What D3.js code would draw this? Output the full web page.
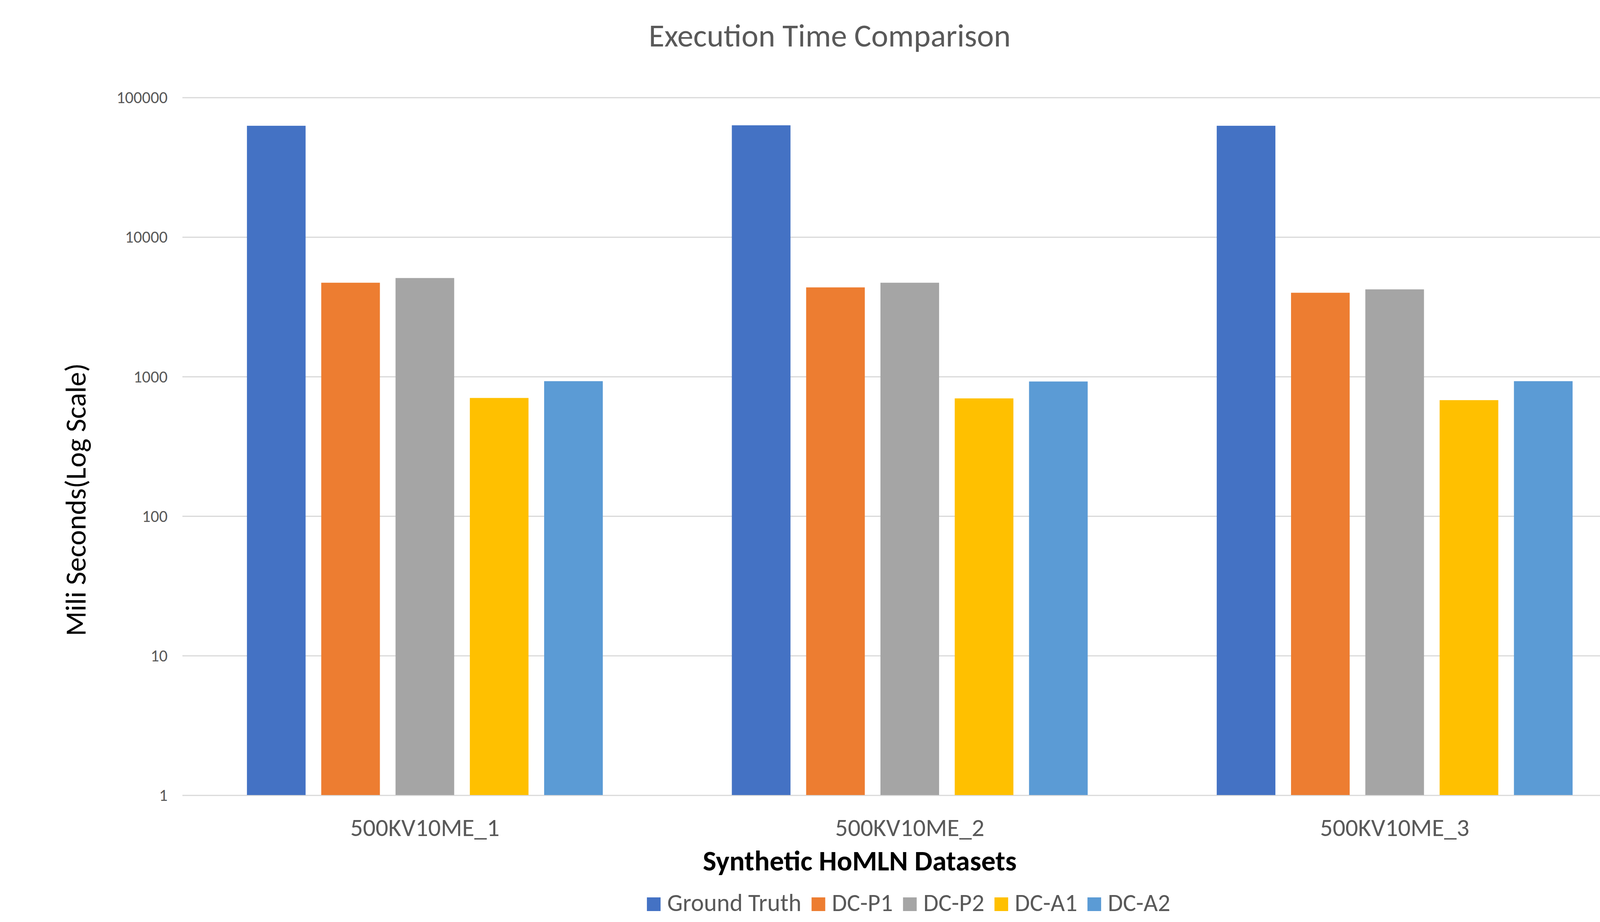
<!DOCTYPE html>
<html>
<head>
<meta charset="utf-8">
<script src="https://d3js.org/d3.v7.min.js"></script>
<style>
  body { margin: 0; background: #fff; }
  text { font-family: Carlito, Calibri, Lato, sans-serif; }
</style>
</head>
<body>
<svg id="chart"></svg>
<script>
var W = 4248, H = 2360;

var datasets = ["500KV10ME_1", "500KV10ME_2", "500KV10ME_3"];
var methods = ["Ground Truth", "DC-P1", "DC-P2", "DC-A1", "DC-A2"];
var groundTruth = [62900, 63400, 62900];
var dcP1 = [4720, 4370, 4000];
var dcP2 = [5100, 4720, 4230];
var dcA1 = [705, 700, 680];
var dcA2 = [930, 925, 930];
var yTicks = [1, 10, 100, 1000, 10000, 100000];
var colors = ["#4472C4", "#ED7D31", "#A5A5A5", "#FFC000", "#5B9BD5"];

var series = [groundTruth, dcP1, dcP2, dcA1, dcA2];

// plot area (window.top is read-only, so no "top" here)
var plotL = 467, plotR = 4191, plotT = 250, plotB = 2036;

var svg = d3.select("#chart").attr("width", W).attr("height", H);

var x0 = d3.scaleBand().domain(datasets).range([plotL, plotR]);
var groupW = 911;
var x1 = d3.scaleBand().domain(methods).range([0, groupW]).paddingInner(40 / 190);
var y = d3.scaleLog().domain([1, 100000]).range([plotB, plotT]);
var color = d3.scaleOrdinal().domain(methods).range(colors);

// gridlines
svg.append("g")
  .selectAll("line")
  .data(yTicks)
  .enter().append("line")
  .attr("x1", plotL).attr("x2", plotR)
  .attr("y1", function(d) { return y(d); })
  .attr("y2", function(d) { return y(d); })
  .attr("stroke", "#d9d9d9")
  .attr("stroke-width", 3);

// bars
var groups = svg.append("g")
  .selectAll("g")
  .data(datasets)
  .enter().append("g")
  .attr("transform", function(d) {
    return "translate(" + (x0(d) + (x0.bandwidth() - groupW) / 2) + ",0)";
  });

groups.selectAll("rect")
  .data(function(d, i) {
    return methods.map(function(m, j) { return { m: m, v: series[j][i] }; });
  })
  .enter().append("rect")
  .attr("x", function(d) { return x1(d.m); })
  .attr("width", x1.bandwidth())
  .attr("y", function(d) { return y(d.v); })
  .attr("height", function(d) { return plotB - 1 - y(d.v); })
  .attr("fill", function(d) { return color(d.m); });

// y axis
var yAxis = svg.append("g")
  .attr("transform", "translate(" + plotL + ",0)")
  .call(d3.axisLeft(y).tickValues(yTicks).tickFormat(d3.format("d")).tickSize(0).tickPadding(38));
yAxis.select(".domain").remove();
yAxis.selectAll("text")
  .attr("fill", "#595959")
  .style("font-size", "43px");

// x axis
var xAxis = svg.append("g")
  .attr("transform", "translate(0," + plotB + ")")
  .call(d3.axisBottom(x0).tickSize(0).tickPadding(59));
xAxis.select(".domain").remove();
xAxis.selectAll("text")
  .attr("fill", "#595959")
  .style("font-size", "64px");

// title
svg.append("text")
  .attr("x", 2124).attr("y", 119)
  .attr("text-anchor", "middle")
  .attr("fill", "#595959")
  .style("font-size", "82px")
  .text("Execution Time Comparison");

// axis titles
svg.append("text")
  .attr("transform", "translate(219,1279) rotate(-90)")
  .attr("text-anchor", "middle")
  .attr("fill", "#000")
  .style("font-size", "74px")
  .text("Mili Seconds(Log Scale)");

svg.append("text")
  .attr("x", 2201).attr("y", 2228)
  .attr("text-anchor", "middle")
  .attr("fill", "#000")
  .style("font-size", "73px")
  .style("font-weight", "bold")
  .text("Synthetic HoMLN Datasets");

// legend
var legend = svg.append("g");
var lx = 0;
methods.forEach(function(m) {
  legend.append("rect")
    .attr("x", lx).attr("y", 2297)
    .attr("width", 35).attr("height", 35)
    .attr("fill", color(m));
  var t = legend.append("text")
    .attr("x", lx + 52).attr("y", 2332)
    .attr("fill", "#595959")
    .style("font-size", "63px")
    .text(m);
  lx += 52 + t.node().getComputedTextLength() + 26;
});
lx -= 26;
legend.attr("transform", "translate(" + (2326 - lx / 2) + ",0)");
</script>
</body>
</html>
